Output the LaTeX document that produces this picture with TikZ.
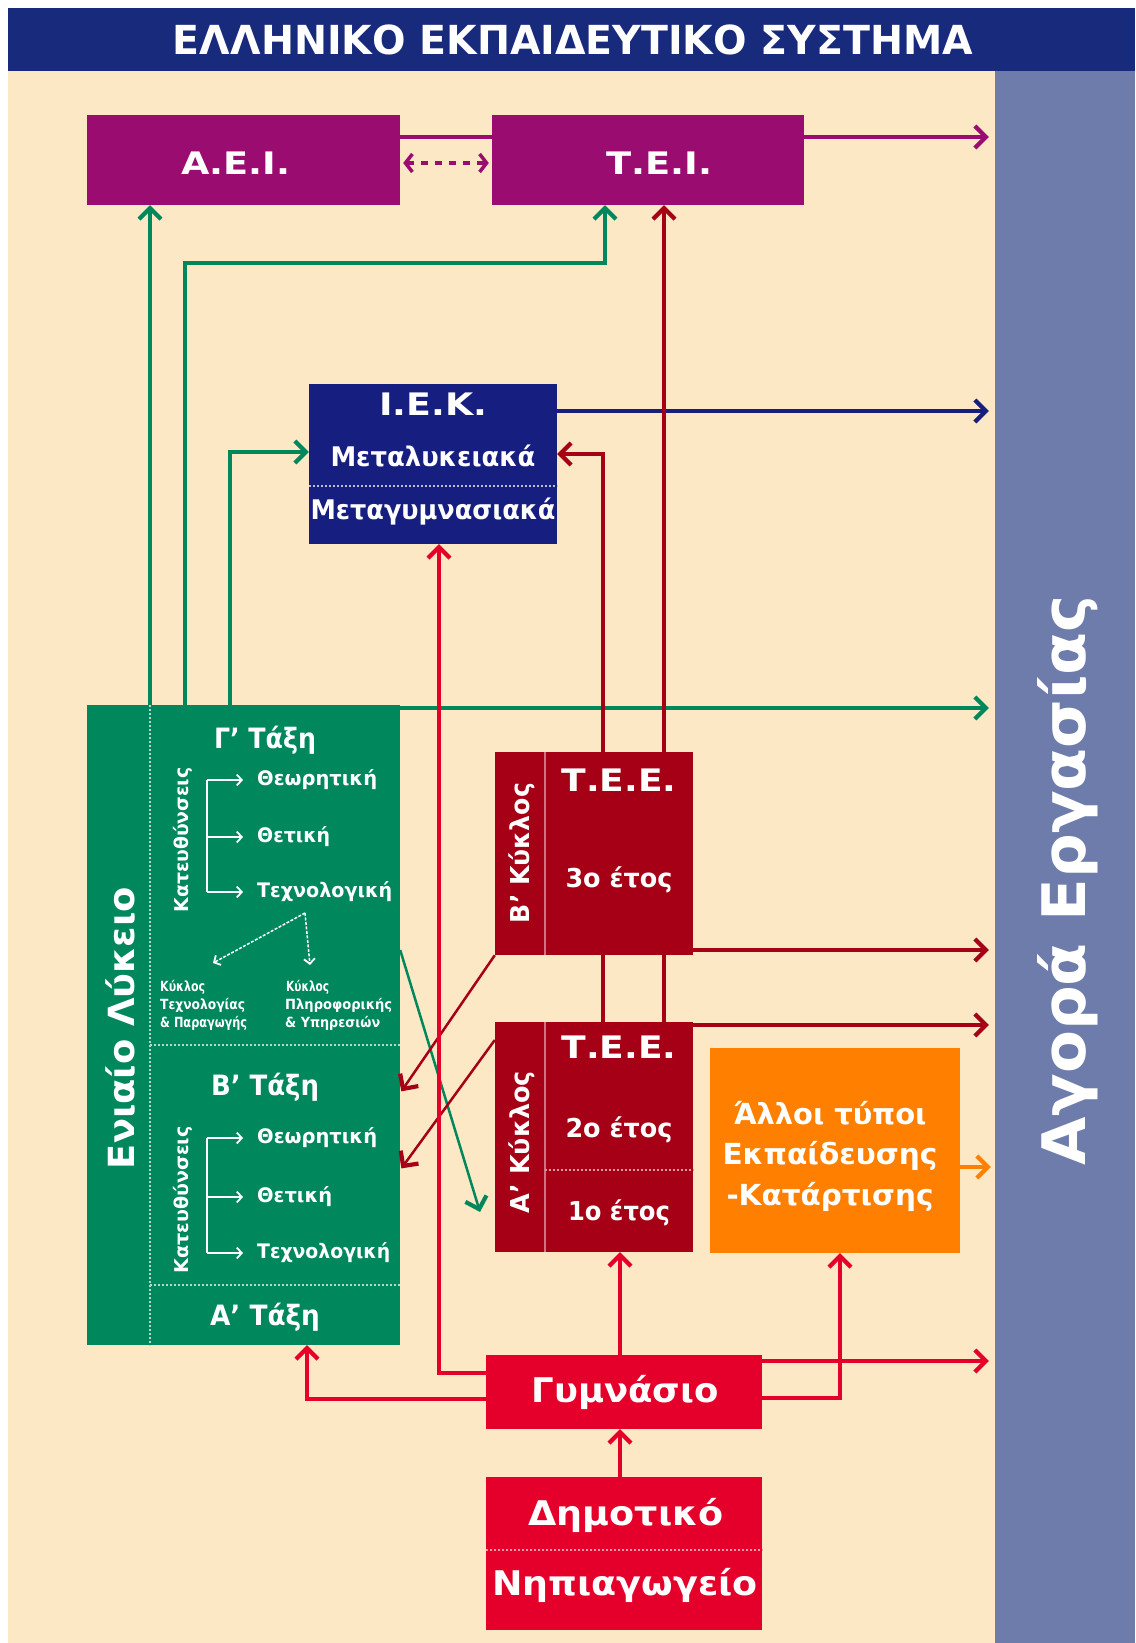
\documentclass[tikz,border=0pt]{standalone}
\usepackage{fontspec}
\usepackage{graphicx}
\setmainfont{DejaVu Sans}
\usetikzlibrary{arrows.meta}
\definecolor{cream}{RGB}{253,232,198}
\definecolor{navy}{RGB}{24,42,124}
\definecolor{magn}{RGB}{155,12,112}
\definecolor{iekblue}{RGB}{22,30,128}
\definecolor{lgreen}{RGB}{0,135,92}
\definecolor{teered}{RGB}{165,0,22}
\definecolor{orng}{RGB}{255,128,0}
\definecolor{gred}{RGB}{228,0,42}
\definecolor{slate}{RGB}{110,124,172}
\newcommand{\tw}[2]{\resizebox{#1pt}{\height}{#2}}
\newcommand{\fsz}[1]{\fontsize{#1}{#1}\selectfont\bfseries}
\begin{document}
\begin{tikzpicture}[x=1pt,y=-1pt,
  box/.style={rectangle,inner sep=0pt,draw=none},
  lbl/.style={text=white,inner sep=0pt,anchor=center},
  ln/.style={line width=3.2pt},
  tip/.style={-{Straight Barb[length=11pt,width=22pt,line width=4.2pt]}},
  dtip/.style={{Straight Barb[length=7pt,width=18pt,line width=3.5pt]}-{Straight Barb[length=7pt,width=18pt,line width=3.5pt]}},
  wl/.style={white,line width=1.5pt},
  wtip/.style={-{Straight Barb[length=5pt,width=11pt,line width=1.8pt]}},
  sep/.style={line width=2.5pt,dash pattern=on 2pt off 2pt},
  toag/.style={shorten >=6pt},
]
\useasboundingbox (0,0) rectangle (1135,1643);
\fill[white] (0,0) rectangle (1135,1643);
\fill[cream] (8,71) rectangle (995,1643);
\node[box,fill=navy,minimum width=1127pt,minimum height=63pt] (title) at (571.5,39.5) {};
\node[box,fill=slate,minimum width=140pt,minimum height=1572pt] (agora) at (1065,857) {};

% boxes
\node[box,fill=magn,minimum width=313pt,minimum height=90pt] (aei) at (243.5,160) {};
\node[box,fill=magn,minimum width=312pt,minimum height=90pt] (tei) at (648,160) {};
\node[box,fill=iekblue,minimum width=248pt,minimum height=160pt] (iek) at (433,464) {};
\node[box,fill=lgreen,minimum width=313pt,minimum height=640pt] (lyk) at (243.5,1025) {};
\node[box,fill=teered,minimum width=198pt,minimum height=203pt] (teeB) at (594,853.5) {};
\node[box,fill=teered,minimum width=198pt,minimum height=230pt] (teeA) at (594,1137) {};
\node[box,fill=orng,minimum width=250pt,minimum height=205pt] (oth) at (835,1150.5) {};
\node[box,fill=gred,minimum width=276pt,minimum height=74pt] (gym) at (624,1392) {};
\node[box,fill=gred,minimum width=276pt,minimum height=153pt] (dim) at (624,1553.5) {};

% separators
\draw[sep,white!70!lgreen] (150,0 |- lyk.north) -- (150,0 |- lyk.south);
\draw[sep,white!70!lgreen] (150,1045) -- (lyk.east |- 0,1045);
\draw[sep,white!70!lgreen] (150,1285) -- (lyk.east |- 0,1285);
\draw[sep,white!70!iekblue] (iek.west |- 0,486) -- (iek.east |- 0,486);
\draw[line width=1.5pt,teered!55!white] (545,0 |- teeB.north) -- (545,0 |- teeB.south);
\draw[line width=1.5pt,teered!55!white] (545,0 |- teeA.north) -- (545,0 |- teeA.south);
\draw[sep,white!60!teered] (545,1170) -- (teeA.east |- 0,1170);
\draw[sep,white!60!gred] (dim.west |- 0,1550) -- (dim.east |- 0,1550);

% texts
\node[lbl] (titleT) at (573,40) {\fsz{40}\tw{800}{ΕΛΛΗΝΙΚΟ ΕΚΠΑΙΔΕΥΤΙΚΟ ΣΥΣΤΗΜΑ}};
\node[lbl] (aeiT) at (236,163) {\fsz{31}\tw{109}{Α.Ε.Ι.}};
\node[lbl] (teiT) at (659,163) {\fsz{31}\tw{106}{Τ.Ε.Ι.}};
\node[lbl] (iekT1) at (433,404) {\fsz{31}\tw{108}{Ι.Ε.Κ.}};
\node[lbl] (iekT2) at (433,456) {\fsz{27}\tw{205}{Μεταλυκειακά}};
\node[lbl] (iekT3) at (433,512) {\fsz{27}\tw{245}{Μεταγυμνασιακά}};

\node[lbl,rotate=90] (lykT) at (120,1028) {\fsz{36}\tw{282}{Ενιαίο Λύκειο}};
\node[lbl] (gT) at (265,740) {\fsz{28}\tw{102}{Γ’ Τάξη}};
\node[lbl] (bT) at (265,1087) {\fsz{28}\tw{108}{Β’ Τάξη}};
\node[lbl] (aT) at (265,1317) {\fsz{28}\tw{110}{Α’ Τάξη}};
\node[lbl,rotate=90] (katG) at (183,840) {\fsz{19}\tw{145}{Κατευθύνσεις}};
\node[lbl,rotate=90] (katB) at (183,1200) {\fsz{19}\tw{147}{Κατευθύνσεις}};
\node[lbl,anchor=west] (g1) at (257,780) {\fsz{20}\tw{120}{Θεωρητική}};
\node[lbl,anchor=west] (g2) at (257,837) {\fsz{20}\tw{73}{Θετική}};
\node[lbl,anchor=west] (g3) at (257,892) {\fsz{20}\tw{135}{Τεχνολογική}};
\node[lbl,anchor=west] (b1) at (257,1138) {\fsz{20}\tw{120}{Θεωρητική}};
\node[lbl,anchor=west] (b2) at (257,1197) {\fsz{20}\tw{75}{Θετική}};
\node[lbl,anchor=west] (b3) at (257,1253) {\fsz{20}\tw{133}{Τεχνολογική}};
\node[lbl,anchor=west] (c11) at (160,987) {\fsz{14}\tw{45}{Κύκλος}};
\node[lbl,anchor=west] (c12) at (160,1005) {\fsz{14}\tw{85}{Τεχνολογίας}};
\node[lbl,anchor=west] (c13) at (160,1023) {\fsz{14}\tw{87}{\& Παραγωγής}};
\node[lbl,anchor=west] (c21) at (286,987) {\fsz{14}\tw{43}{Κύκλος}};
\node[lbl,anchor=west] (c22) at (285,1005) {\fsz{14}\tw{107}{Πληροφορικής}};
\node[lbl,anchor=west] (c23) at (285,1023) {\fsz{14}\tw{95}{\& Υπηρεσιών}};

\node[lbl] (teeBT) at (619,780) {\fsz{31}\tw{115}{Τ.Ε.Ε.}};
\node[lbl] (teeB3) at (619,880) {\fsz{26}\tw{107}{3ο έτος}};
\node[lbl,rotate=90] (teeBk) at (522,853) {\fsz{26}\tw{140}{Β’ Κύκλος}};
\node[lbl] (teeAT) at (619,1047) {\fsz{31}\tw{115}{Τ.Ε.Ε.}};
\node[lbl] (teeA2) at (619,1130) {\fsz{26}\tw{107}{2ο έτος}};
\node[lbl] (teeA1) at (619,1213) {\fsz{26}\tw{102}{1ο έτος}};
\node[lbl,rotate=90] (teeAk) at (522,1142) {\fsz{26}\tw{142}{Α’ Κύκλος}};

\node[lbl] (oth1) at (830,1113) {\fsz{29}\tw{193}{Άλλοι τύποι}};
\node[lbl] (oth2) at (830,1156) {\fsz{29}\tw{215}{Εκπαίδευσης}};
\node[lbl] (oth3) at (830,1197) {\fsz{29}\tw{207}{-Κατάρτισης}};

\node[lbl] (gymT) at (625,1392) {\fsz{34}\tw{187}{Γυμνάσιο}};
\node[lbl] (dimT) at (626,1515) {\fsz{34}\tw{195}{Δημοτικό}};
\node[lbl] (nipT) at (625,1585) {\fsz{34}\tw{265}{Νηπιαγωγείο}};

\node[lbl,rotate=90] (agoraT) at (1068,880) {\fsz{60}\tw{570}{Αγορά Εργασίας}};

% white bracket arrows inside Lykeio
\draw[wl] (207,0 |- g1.west) -- (207,0 |- g3.west);
\foreach \n in {g1,g2,g3} \draw[wl,wtip,shorten >=14pt] (207,0 |- \n.west) -- (\n.west);
\draw[wl] (207,0 |- b1.west) -- (207,0 |- b3.west);
\foreach \n in {b1,b2,b3} \draw[wl,wtip,shorten >=14pt] (207,0 |- \n.west) -- (\n.west);
\coordinate (apex) at (305,913);
\coordinate (cyc1) at (213,963);
\coordinate (cyc2) at (310,965);
\draw[wl,dash pattern=on 3pt off 1.5pt,wtip] (apex) -- (cyc1);
\draw[wl,dash pattern=on 3pt off 1.5pt,wtip] (apex) -- (cyc2);

% connectors
\draw[ln,magn] (aei.east |- 0,137) -- (tei.west |- 0,137);
\draw[ln,magn,dtip,dash pattern=on 7pt off 7pt,shorten <=3pt,shorten >=3pt] (aei.east |- 0,163) -- (tei.west |- 0,163);
\draw[ln,magn,tip,toag] (tei.east |- 0,137) -- (agora.west |- 0,137);
\draw[ln,iekblue,tip,toag] (iek.east |- 0,411) -- (agora.west |- 0,411);

\draw[ln,lgreen,tip] (150,0 |- lyk.north) -- (150,0 |- aei.south);
\draw[ln,lgreen,tip] (185,0 |- lyk.north) -- (185,263) -- (605,263) -- (605,0 |- tei.south);
\draw[ln,lgreen,tip] (230,0 |- lyk.north) |- (iek.west |- 0,452);
\draw[ln,lgreen,tip,toag] (lyk.east |- 0,708) -- (agora.west |- 0,708);
\coordinate (gtip) at (480,1212);
\draw[line width=2.5pt,lgreen,tip] (lyk.east |- 0,950) -- (gtip);

\draw[ln,teered,tip] (664,0 |- teeB.north) -- (664,0 |- tei.south);
\draw[ln,teered,tip] (603,0 |- teeB.north) |- (iek.east |- 0,454);
\draw[ln,teered] (603,0 |- teeA.north) -- (603,0 |- teeB.south);
\draw[ln,teered] (664,0 |- teeA.north) -- (664,0 |- teeB.south);
\draw[ln,teered,tip,toag] (teeB.east |- 0,950) -- (agora.west |- 0,950);
\draw[ln,teered,tip,toag] (teeA.east |- 0,1025) -- (agora.west |- 0,1025);
\draw[line width=2.5pt,teered,tip,shorten >=2pt] (teeB.south west) -- (lyk.east |- 0,1093);
\draw[line width=2.5pt,teered,tip,shorten >=2pt] (teeA.west |- 0,1040) -- (lyk.east |- 0,1170);

\draw[ln,orng,tip,shorten >=4pt] (oth.east |- 0,1167) -- (agora.west |- 0,1167);

\draw[ln,gred,tip] (620,0 |- gym.north) -- (620,0 |- teeA.south);
\draw[ln,gred,tip] (gym.east |- 0,1398) -| (840,0 |- oth.south);
\draw[ln,gred,tip,toag] (gym.east |- 0,1361) -- (agora.west |- 0,1361);
\draw[ln,gred,tip] (gym.west |- 0,1373) -| (439,0 |- iek.south);
\draw[ln,gred,tip] (gym.west |- 0,1399) -| (307,0 |- lyk.south);
\draw[ln,gred,tip] (620,0 |- dim.north) -- (620,0 |- gym.south);
\end{tikzpicture}
\end{document}
